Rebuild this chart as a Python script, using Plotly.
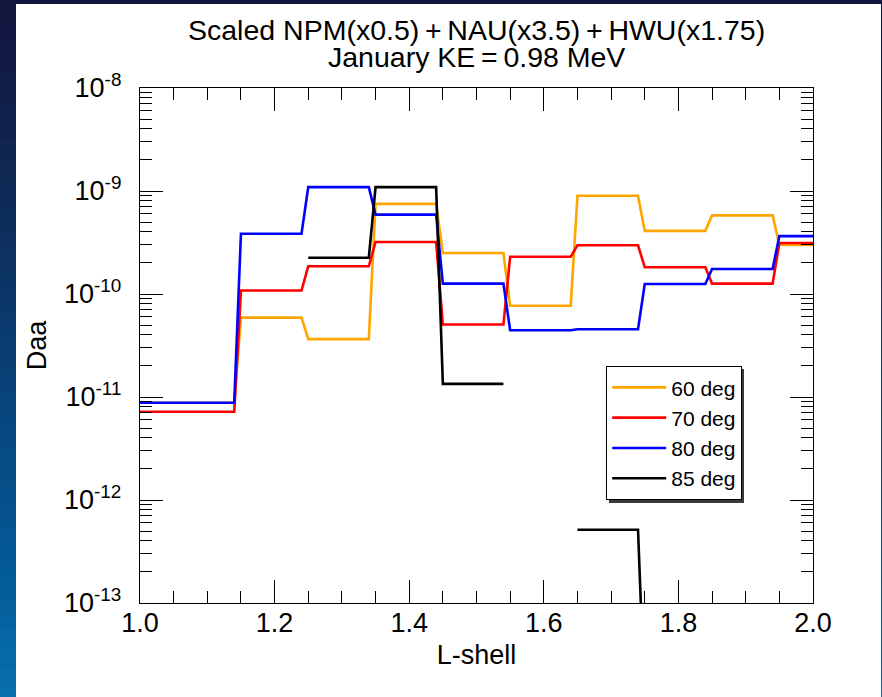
import plotly.graph_objects as go

# L-shell bins: each bin holds a constant Daa value from its start to its end
L_start = [1.00, 1.15, 1.25, 1.35, 1.45, 1.55, 1.65, 1.75, 1.85, 1.95]
L_end = [1.14, 1.24, 1.34, 1.44, 1.54, 1.64, 1.74, 1.84, 1.94, 2.00]

# Pitch-angle diffusion coefficients per bin (None = no data)
daa_60 = [8.8e-12, 5.9e-11, 3.65e-11, 7.5e-10, 2.5e-10, 7.7e-11, 9.0e-10, 4.1e-10, 5.8e-10, 3.0e-10]
daa_70 = [7.2e-12, 1.08e-10, 1.86e-10, 3.2e-10, 5.05e-11, 2.3e-10, 2.97e-10, 1.82e-10, 1.26e-10, 3.13e-10]
daa_80 = [8.8e-12, 3.85e-10, 1.09e-9, 5.9e-10, 1.26e-10, 4.45e-11, 4.55e-11, 1.25e-10, 1.75e-10, 3.65e-10]
daa_85 = [None, None, 2.25e-10, 1.09e-9, 1.34e-11, None, 5.15e-13, 1e-14, 1e-14, 1e-14]

series_names = ["60 deg", "70 deg", "80 deg", "85 deg"]
series_values = [daa_60, daa_70, daa_80, daa_85]
series_colors = ["#FFA500", "#FF0000", "#0000FF", "#000000"]

x_ticks = [1.0, 1.2, 1.4, 1.6, 1.8, 2.0]
y_exponents = [-13, -12, -11, -10, -9, -8]

FONT = "Liberation Sans, Arial, Helvetica, sans-serif"

# figure geometry (pixels)
W, H = 882, 697
ML, MR, MT, MB = 140, 69, 88, 94
PW, PH = W - ML - MR, H - MT - MB


def px(x):
    return (x - ML) / PW


def py(y):
    return (H - MB - y) / PH


def step_xy(values):
    xs, ys = [], []
    for a, b, v in zip(L_start, L_end, values):
        xs += [a, b]
        ys += [v, v]
    return xs, ys


fig = go.Figure()
for name, vals, col in zip(series_names, series_values, series_colors):
    xs, ys = step_xy(vals)
    fig.add_trace(go.Scatter(
        x=xs, y=ys, mode="lines", name=name,
        line=dict(color=col, width=2.6), connectgaps=False,
    ))

# slide background: vertical blue gradient with a white panel on top
stops = [(0.0, (19, 20, 61)), (0.3, (14, 44, 88)), (0.55, (8, 66, 120)),
         (0.8, (4, 88, 150)), (1.0, (8, 112, 174))]


def grad_color(t):
    for (t0, c0), (t1, c1) in zip(stops[:-1], stops[1:]):
        if t0 <= t <= t1:
            f = (t - t0) / (t1 - t0)
            return "rgb(%d,%d,%d)" % tuple(round(c0[i] + f * (c1[i] - c0[i])) for i in range(3))
    return "rgb(%d,%d,%d)" % stops[-1][1]


shapes = []
nb = 70
for i in range(nb):
    y0 = H * i / nb
    y1 = H * (i + 1) / nb + 1
    shapes.append(dict(type="rect", xref="paper", yref="paper", layer="below",
                       x0=px(0), x1=px(W), y0=py(y1), y1=py(y0),
                       fillcolor=grad_color((i + 0.5) / nb), line=dict(width=0)))
shapes.append(dict(type="rect", xref="paper", yref="paper", layer="below",
                   x0=px(16), x1=px(881), y0=py(H + 2), y1=py(4),
                   fillcolor="white", line=dict(width=0)))
# legend drop shadow
shapes.append(dict(type="rect", xref="paper", yref="paper", layer="above",
                   x0=px(609), x1=px(744), y0=py(503), y1=py(369),
                   fillcolor="#3a3a3a", line=dict(width=0)))

annotations = [
    dict(text="Scaled NPM(x0.5)\u2009+\u2009NAU(x3.5)\u2009+\u2009HWU(x1.75)",
         xref="paper", yref="paper", x=0.5, y=py(30), xanchor="center", yanchor="middle",
         showarrow=False, font=dict(family=FONT, size=28.5, color="black")),
    dict(text="January KE\u2009=\u20090.98 MeV",
         xref="paper", yref="paper", x=0.5, y=py(57), xanchor="center", yanchor="middle",
         showarrow=False, font=dict(family=FONT, size=28.5, color="black")),
]

minor_vals = [m * 10.0 ** e for e in y_exponents[:-1] for m in range(2, 10)]

fig.update_layout(
    width=W, height=H,
    margin=dict(l=ML, r=MR, t=MT, b=MB),
    paper_bgcolor="rgb(19,20,61)", plot_bgcolor="white",
    shapes=shapes, annotations=annotations,
    font=dict(family=FONT, color="black"),
    showlegend=True,
    legend=dict(x=px(606), y=py(366), xanchor="left", yanchor="top",
                bgcolor="white", bordercolor="black", borderwidth=1.2,
                font=dict(family=FONT, size=21, color="black"),
                tracegroupgap=0, itemwidth=54),
    xaxis=dict(
        range=[1.0, 2.0], tickmode="array", tickvals=x_ticks,
        ticktext=["%.1f" % v for v in x_ticks],
        ticks="inside", ticklen=23, tickwidth=1.4, tickcolor="black",
        showline=True, linecolor="black", linewidth=1.4, mirror="allticks",
        showgrid=False, zeroline=False, ticklabelstandoff=-5,
        tickfont=dict(family=FONT, size=27, color="black"),
        minor=dict(dtick=0.05, ticks="inside", ticklen=12, tickwidth=1.4,
                   tickcolor="black", showgrid=False),
        title=dict(text="L-shell", font=dict(family=FONT, size=27, color="black"), standoff=8),
    ),
    yaxis=dict(
        type="log", range=[-13, -8], tickmode="array",
        tickvals=[10.0 ** e for e in y_exponents],
        ticktext=["10<sup>%d</sup>" % e for e in y_exponents],
        ticks="inside", ticklen=23, tickwidth=1.4, tickcolor="black",
        showline=True, linecolor="black", linewidth=1.4, mirror="allticks",
        showgrid=False, zeroline=False, ticklabelstandoff=12,
        tickfont=dict(family=FONT, size=27, color="black"),
        minor=dict(tickmode="array", tickvals=minor_vals, ticks="inside", ticklen=12,
                   tickwidth=1.4, tickcolor="black", showgrid=False),
        title=dict(text="Daa", font=dict(family=FONT, size=27, color="black"), standoff=9),
    ),
)

fig.write_html("out.html")
